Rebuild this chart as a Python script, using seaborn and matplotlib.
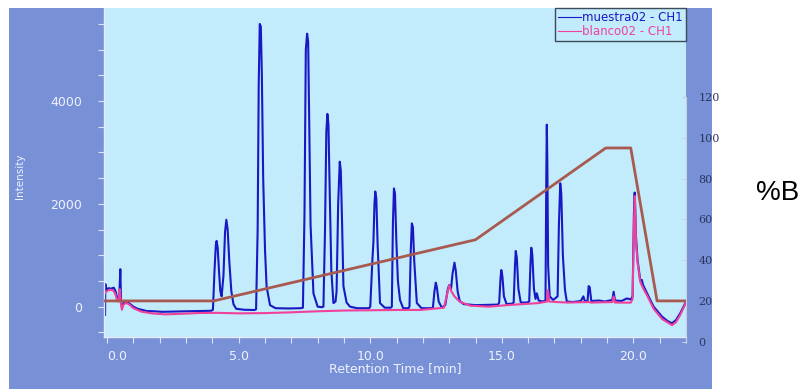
import matplotlib
matplotlib.use("Agg")
import matplotlib.pyplot as plt
import matplotlib.patches as patches
from matplotlib.ticker import MultipleLocator
import seaborn as sns

# Colours
panel_blue = "#7890d6"
plot_cyan = "#c2ebfb"
muestra_color = "#1818c4"
blanco_color = "#f0409a"
gradient_color = "#a85a50"
light_text = "#eef2ff"

# muestra02 - CH1 (time [min], intensity)
muestra_time = [
    -0.08, -0.07, -0.03, 0.05, 0.15, 0.25, 0.32, 0.40, 0.46, 0.50, 0.53, 0.58, 0.65, 0.75,
    0.85, 1.00, 1.15, 1.30, 1.50, 1.80, 2.10, 2.50, 3.00, 3.50, 3.95,
    4.02, 4.08, 4.13, 4.16, 4.20, 4.25, 4.30, 4.35, 4.42, 4.48, 4.53, 4.58, 4.64, 4.72, 4.80,
    4.90, 5.20, 5.60,
    5.66, 5.72, 5.76, 5.80, 5.84, 5.88, 5.93, 6.00, 6.06, 6.19, 6.40, 6.90, 7.35,
    7.44, 7.50, 7.55, 7.60, 7.64, 7.68, 7.73, 7.84, 8.00, 8.15,
    8.22, 8.28, 8.33, 8.37, 8.41, 8.46, 8.52, 8.60, 8.68,
    8.72, 8.78, 8.84, 8.88, 8.93, 8.98, 9.10, 9.23, 9.50, 9.95,
    10.00, 10.08, 10.12, 10.16, 10.19, 10.23, 10.28, 10.37, 10.55, 10.78,
    10.82, 10.86, 10.90, 10.94, 10.99, 11.05, 11.13, 11.25, 11.45,
    11.49, 11.54, 11.58, 11.62, 11.67, 11.77, 11.95, 12.30,
    12.38, 12.44, 12.49, 12.53, 12.60, 12.72,
    12.85, 12.95, 13.00, 13.07, 13.13, 13.20, 13.25, 13.32, 13.40, 13.55, 14.00, 14.50, 14.85,
    14.90, 14.95, 14.98, 15.02, 15.08, 15.18, 15.40,
    15.45, 15.50, 15.53, 15.57, 15.63, 15.72, 15.95,
    16.04, 16.09, 16.12, 16.16, 16.22, 16.28, 16.33, 16.40, 16.55,
    16.66, 16.69, 16.71, 16.73, 16.76, 16.82, 16.95,
    17.12, 17.17, 17.22, 17.26, 17.32, 17.40, 17.47, 17.70, 18.00, 18.10, 18.16, 18.26,
    18.30, 18.34, 18.40, 18.70, 18.90, 19.20, 19.25, 19.30, 19.55, 19.75, 19.90,
    19.97, 20.02, 20.05, 20.10, 20.16, 20.26, 20.32, 20.37, 20.52, 20.77, 21.09, 21.30,
    21.47, 21.62, 21.78, 22.00,
]
muestra_intensity = [
    -160, 440, 330, 360, 350, 370, 300, 130, 180, 730, 60, 20, 90, 100,
    60, 0, -40, -60, -85, -90, -100, -95, -90, -85, -80,
    -60, 700, 1200, 1280, 1150, 700, 300, 200, 600, 1450, 1690, 1500, 900, 300, 50,
    -40, -60, -65,
    -50, 1500, 4300, 5500, 5450, 4500, 2500, 1100, 390, 30, -30, -35, -30,
    -20, 1800, 5000, 5310, 5150, 3600, 1600, 260, 0, -10,
    0, 1500, 3400, 3750, 3550, 2200, 700, 70, 100,
    300, 2000, 2820, 2650, 1600, 400, 80, 0, -30, -30,
    0, 900, 1260, 2000, 2240, 2100, 1200, 70, -20, -20,
    0, 1600, 2300, 2200, 1300, 500, 130, -30, -30,
    0, 1100, 1620, 1550, 900, 70, -30, -30,
    -20, 300, 467, 380, 100, -20,
    30, 350, 420, 350, 650, 856, 700, 300, 110, 50, 30, 35, 40,
    80, 550, 713, 600, 200, 50, 60,
    80, 800, 1083, 950, 350, 80, 80,
    100, 850, 1147, 1000, 350, 150, 260, 120, 100,
    120, 2500, 3540, 2800, 800, 200, 130,
    200, 1600, 2400, 2200, 1000, 325, 100, 90, 110, 200, 100, 120,
    400, 380, 110, 120, 100, 130, 290, 120, 110, 160, 140,
    200, 1800, 2220, 1360, 900, 520, 520, 420, 260, 0, -194, -280,
    -323, -260, -128, 97,
]

# blanco02 - CH1 (time [min], intensity)
blanco_time = [
    -0.08, -0.02, 0.10, 0.22, 0.30, 0.40, 0.45, 0.48, 0.52, 0.56, 0.62, 0.72, 0.85, 1.00,
    1.30, 1.70, 2.20, 3.00, 3.50, 4.20, 5.00, 6.00, 7.00, 8.00, 9.00, 10.00, 11.00, 11.90,
    12.40, 12.80, 12.90, 13.00, 13.08, 13.20, 13.40, 13.80, 14.50, 15.20, 15.80, 16.40,
    16.72, 16.75, 16.80, 17.10, 17.50, 18.30, 18.40, 19.20, 19.25, 19.30, 19.90,
    19.97, 20.02, 20.06, 20.10, 20.16, 20.26, 20.40, 20.52, 20.77, 21.09, 21.47, 21.62,
    21.78, 22.00,
]
blanco_intensity = [
    266, 300, 330, 320, 260, 100, 150, 340, 60, -60, 40, 75, 40, -30,
    -97, -130, -150, -135, -123, -120, -130, -125, -110, -90, -75, -70, -64, -64,
    -40, -20, 200, 420, 300, 200, 97, 20, 0, 30, 50, 70,
    100, 325, 100, 90, 80, 90, 80, 90, 200, 80, 78,
    150, 1600, 2150, 1250, 850, 480, 330, 220, -40, -240, -360, -300,
    -160, 80,
]

# solvent gradient (%B)
gradient_time = [-0.1, 4.05, 14.0, 18.95, 19.9, 20.9, 22.0]
gradient_pct = [20, 20, 50, 95, 95, 20, 20]

fig = plt.figure(figsize=(8.09, 3.89), dpi=100)
fig.patch.set_facecolor("white")

# blue panel behind the chart
fig.patches.append(patches.Rectangle(
    (9 / 809, 0), 703 / 809, 381 / 389,
    transform=fig.transFigure, facecolor=panel_blue, edgecolor="none", zorder=-1
))

ax = fig.add_axes([104 / 809, 52 / 389, 582 / 809, 329 / 389])
ax.set_facecolor(plot_cyan)

sns.lineplot(x=muestra_time, y=muestra_intensity, ax=ax, color=muestra_color,
             lw=1.5, sort=False, estimator=None, label="muestra02 - CH1")
sns.lineplot(x=blanco_time, y=blanco_intensity, ax=ax, color=blanco_color,
             lw=1.5, sort=False, estimator=None, label="blanco02 - CH1")

ax.set_xlim(-0.12, 22.0)
ax.set_ylim(-590, 5810)

ax.xaxis.set_major_locator(MultipleLocator(5))
ax.xaxis.set_minor_locator(MultipleLocator(1))
ax.yaxis.set_major_locator(MultipleLocator(2000))
ax.yaxis.set_minor_locator(MultipleLocator(500))
ax.set_xticks([0, 5, 10, 15, 20])
ax.set_xticklabels(["0.0", "5.0", "10.0", "15.0", "20.0"])
ax.get_xticklabels()[0].set_ha("left")

ax.tick_params(axis="both", which="both", colors="#dde4f6", length=4, width=0.8,
               labelcolor=light_text, labelsize=9)
ax.tick_params(axis="y", which="major", pad=12)
ax.tick_params(axis="x", which="major", pad=5)

for side in ["top", "right"]:
    ax.spines[side].set_visible(False)
for side in ["left", "bottom"]:
    ax.spines[side].set_color("#e4eaf8")
    ax.spines[side].set_linewidth(1.0)

ax.set_xlabel("Retention Time [min]", color=light_text, fontsize=9, labelpad=0)
ax.set_ylabel("Intensity", color=light_text, fontsize=7.5)
ax.yaxis.set_label_coords(-0.135, 0.49)

leg = ax.legend(loc="upper right", bbox_to_anchor=(1.0, 1.0), borderaxespad=0,
                fontsize=8.5, labelcolor="linecolor", handlelength=2.0,
                handletextpad=0.1, labelspacing=0.1, borderpad=0.25,
                fancybox=False, frameon=True)
leg.get_frame().set_facecolor(plot_cyan)
leg.get_frame().set_edgecolor("#3c4a5c")
leg.get_frame().set_linewidth(1.0)
leg.get_frame().set_alpha(1)
for line in leg.get_lines():
    line.set_linewidth(0.8)

# %B axis on the right
ax2 = fig.add_axes([104 / 809, 47.3 / 389, 582 / 809, 244.7 / 389], sharex=ax)
ax2.patch.set_visible(False)
sns.lineplot(x=gradient_time, y=gradient_pct, ax=ax2, color=gradient_color,
             lw=2.0, sort=False, estimator=None)
ax2.set_ylim(0, 120)
ax2.set_yticks([0, 20, 40, 60, 80, 100, 120])
ax2.yaxis.tick_right()
ax2.tick_params(axis="y", colors="#c8d0e4", length=3, direction="in",
                labelcolor="#2a3560", labelsize=8, pad=9)
for lbl in ax2.get_yticklabels():
    lbl.set_family("DejaVu Serif")
ax2.tick_params(axis="x", which="both", bottom=False, labelbottom=False)
for side in ["top", "left", "bottom"]:
    ax2.spines[side].set_visible(False)
ax2.spines["right"].set_color("#c8d0e4")
ax2.set_xlabel("")
ax2.set_ylabel("")

fig.text(778 / 809, 1 - 193 / 389, "%B", fontsize=20, family="Liberation Sans",
         color="black", ha="center", va="center")

fig.savefig("out.png", dpi=100)
plt.close(fig)
